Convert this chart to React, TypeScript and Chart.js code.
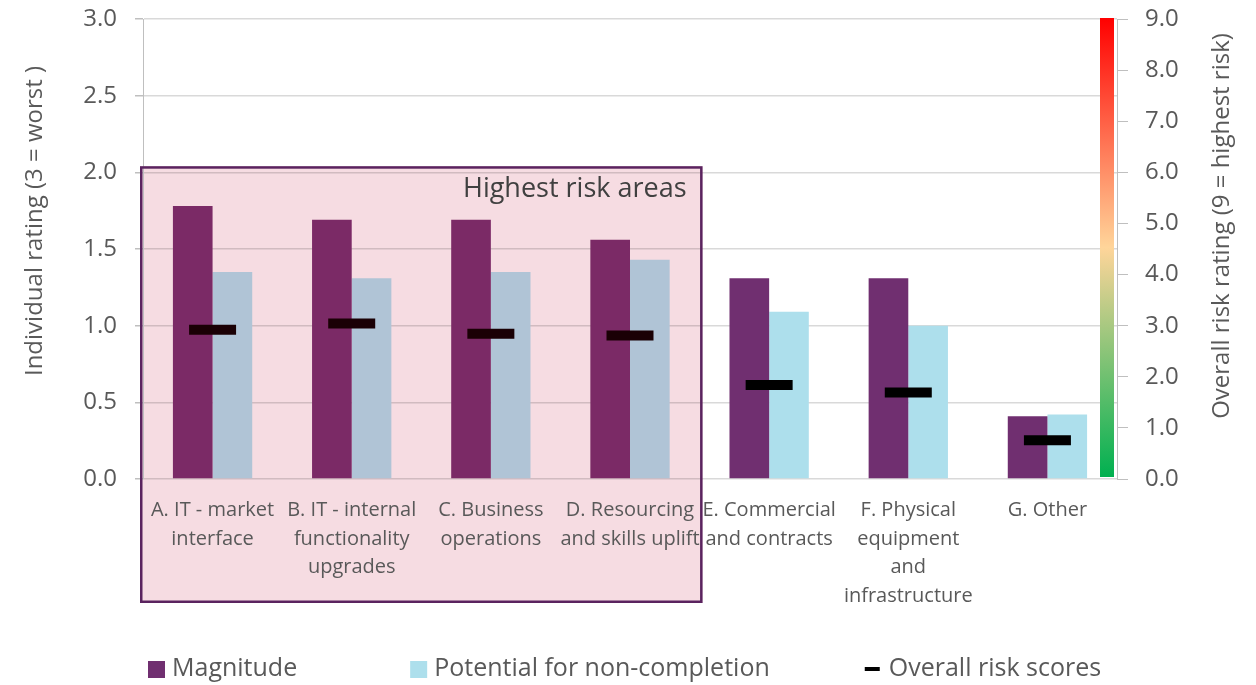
import { useEffect, useRef } from "react";
import { Chart, registerables } from "chart.js";

Chart.register(...registerables);

// ---- Data -----------------------------------------------------------------
const CATEGORY_LABELS: string[][] = [
  ["A. IT - market", "interface"],
  ["B. IT - internal", "functionality", "upgrades"],
  ["C. Business", "operations"],
  ["D. Resourcing", "and skills uplift"],
  ["E. Commercial", "and contracts"],
  ["F. Physical", "equipment", "and", "infrastructure"],
  ["G. Other"],
];

const SERIES_NAMES = ["Magnitude", "Potential for non-completion", "Overall risk scores"];

// Individual ratings (0–3 scale, left axis)
const MAGNITUDE = [1.78, 1.69, 1.69, 1.56, 1.31, 1.31, 0.41];
const NON_COMPLETION = [1.35, 1.31, 1.35, 1.43, 1.09, 1.0, 0.42];

// Overall risk scores (0–9 scale, right axis)
const OVERALL_RISK = [2.92, 3.04, 2.84, 2.81, 1.84, 1.69, 0.76];

// Axis ranges
const LEFT_AXIS = { min: 0, max: 3, step: 0.5 };
const RIGHT_AXIS = { min: 0, max: 9, step: 1 };

const LEFT_TITLE = "Individual rating (3 = worst )";
const RIGHT_TITLE = "Overall risk rating (9 = highest risk)";

// The first N categories are grouped as the highest risk areas
const HIGHLIGHT_COUNT = 4;
const HIGHLIGHT_LABEL = "Highest risk areas";
const HIGHLIGHT_TOP_VALUE = 2.04;

// ---- Styling --------------------------------------------------------------
const FONT = "'Open Sans', 'Noto Sans', sans-serif";
const TEXT = "#595959";

const MAG_COLOR = "#702F70";
const MAG_COLOR_HL = "#7B2A66";
const NC_COLOR = "#ADDFEC";
const NC_COLOR_HL = "#B0C4D6";
const RISK_COLOR = "#000000";
const RISK_COLOR_HL = "#1A0005";

const inHighlight = (i: number) => i < HIGHLIGHT_COUNT;

function highlightBox(chart: any) {
  const { chartArea, scales } = chart;
  const x = scales.x;
  const y = scales.y;
  const left = chartArea.left - 3;
  const right = (x.getPixelForValue(HIGHLIGHT_COUNT - 1) + x.getPixelForValue(HIGHLIGHT_COUNT)) / 2 + 3;
  const top = y.getPixelForValue(HIGHLIGHT_TOP_VALUE);
  const bottom = chartArea.bottom + 124;
  return { left, right, top, bottom };
}

const decorations = {
  id: "decorations",
  beforeDraw(chart: any) {
    const { ctx } = chart;
    const b = highlightBox(chart);
    ctx.save();
    ctx.fillStyle = "#F6DCE2";
    ctx.fillRect(b.left, b.top, b.right - b.left, b.bottom - b.top);
    ctx.restore();
  },
  beforeDatasetsDraw(chart: any) {
    // colour ramp beside the right axis
    const { ctx, chartArea, scales } = chart;
    const y2 = scales.y2;
    const top = y2.getPixelForValue(RIGHT_AXIS.max) - 1;
    const bottom = y2.getPixelForValue(RIGHT_AXIS.min) - 2;
    const x0 = chartArea.right - 17;
    const g = ctx.createLinearGradient(0, bottom, 0, top);
    g.addColorStop(0, "#00B050");
    g.addColorStop(0.5, "#FFD59A");
    g.addColorStop(1, "#FF0000");
    ctx.save();
    ctx.fillStyle = g;
    ctx.fillRect(x0, top, 14, bottom - top);
    ctx.restore();
  },
  afterDatasetsDraw(chart: any) {
    const { ctx } = chart;
    const b = highlightBox(chart);
    ctx.save();
    ctx.strokeStyle = "#5A235F";
    ctx.lineWidth = 2.5;
    ctx.strokeRect(b.left + 1.25, b.top + 1.25, b.right - b.left - 2.5, b.bottom - b.top - 2.5);
    ctx.fillStyle = "#404040";
    ctx.font = `27px ${FONT}`;
    ctx.textAlign = "right";
    ctx.textBaseline = "alphabetic";
    ctx.fillText(HIGHLIGHT_LABEL, b.right - 16, b.top + 31);
    ctx.restore();
  },
  afterDraw(chart: any) {
    const { ctx, chartArea } = chart;
    ctx.save();
    ctx.fillStyle = TEXT;
    ctx.font = `24px ${FONT}`;
    ctx.textAlign = "center";
    ctx.textBaseline = "middle";
    // axis titles
    ctx.save();
    ctx.translate(chartArea.left - 108, chartArea.top + 202);
    ctx.rotate(-Math.PI / 2);
    ctx.fillText(LEFT_TITLE, 0, 0);
    ctx.restore();
    ctx.save();
    ctx.translate(chartArea.right + 105, chartArea.top + 207);
    ctx.rotate(-Math.PI / 2);
    ctx.fillText(RIGHT_TITLE, 0, 0);
    ctx.restore();

    // legend row
    ctx.font = `25px ${FONT}`;
    ctx.textAlign = "left";
    const legendY = chartArea.bottom + 190;
    const markers = [
      { kind: "box", color: MAG_COLOR },
      { kind: "box", color: NC_COLOR },
      { kind: "dash", color: RISK_COLOR },
    ];
    const gaps = [113, 95];
    let lx = chartArea.left + 5;
    SERIES_NAMES.forEach((name, i) => {
      const m = markers[i];
      ctx.fillStyle = m.color;
      if (m.kind === "box") ctx.fillRect(lx, legendY - 8, 17, 17);
      else ctx.fillRect(lx, legendY - 2, 15, 4);
      ctx.fillStyle = TEXT;
      ctx.fillText(name, lx + 24, legendY);
      lx += 24 + ctx.measureText(name).width + (gaps[i] ?? 0);
    });
    ctx.restore();
  },
};

// Vertical axes: fixed widths, and no extra top/bottom room for end labels
const fixVertical = (width: number) => (s: any) => {
  s.width = width;
  s.paddingTop = 0;
  s.paddingBottom = 0;
};

export default function App() {
  const canvasRef = useRef<HTMLCanvasElement>(null);

  useEffect(() => {
    document.body.style.margin = "0";
    const canvas = canvasRef.current;
    if (!canvas) return;

    const chart = new Chart(canvas, {
      type: "bar",
      data: {
        labels: CATEGORY_LABELS,
        datasets: [
          {
            type: "line",
            label: SERIES_NAMES[2],
            data: OVERALL_RISK,
            yAxisID: "y2",
            showLine: false,
            pointStyle: "line",
            pointRadius: 23.5,
            pointHoverRadius: 23.5,
            pointBorderWidth: 10,
            pointHoverBorderWidth: 10,
            pointBorderColor: OVERALL_RISK.map((_, i) => (inHighlight(i) ? RISK_COLOR_HL : RISK_COLOR)),
            order: 0,
          } as any,
          {
            type: "bar",
            label: SERIES_NAMES[0],
            data: MAGNITUDE,
            yAxisID: "y",
            backgroundColor: MAGNITUDE.map((_, i) => (inHighlight(i) ? MAG_COLOR_HL : MAG_COLOR)),
            barPercentage: 1,
            categoryPercentage: 0.57,
            order: 1,
          },
          {
            type: "bar",
            label: SERIES_NAMES[1],
            data: NON_COMPLETION,
            yAxisID: "y",
            backgroundColor: NON_COMPLETION.map((_, i) => (inHighlight(i) ? NC_COLOR_HL : NC_COLOR)),
            barPercentage: 1,
            categoryPercentage: 0.57,
            order: 1,
          },
        ],
      },
      options: {
        responsive: false,
        animation: false,
        devicePixelRatio: 1,
        events: [],
        layout: { autoPadding: false, padding: { top: 19, left: 0, right: 0, bottom: 0 } },
        plugins: {
          legend: { display: false },
          tooltip: { enabled: false },
        },
        scales: {
          x: {
            grid: { display: false, drawTicks: false },
            border: { display: false },
            ticks: {
              color: TEXT,
              font: { family: FONT, size: 20, lineHeight: 1.435 },
              padding: 17,
              maxRotation: 0,
              autoSkip: false,
            },
            afterFit: (s: any) => {
              s.height = 206;
            },
          },
          y: {
            position: "left",
            min: LEFT_AXIS.min,
            max: LEFT_AXIS.max,
            grid: { color: "rgba(0,0,0,0.15)", lineWidth: 1.5, tickLength: 8, tickColor: "#BFBFBF" },
            border: { color: "#BFBFBF", width: 1 },
            ticks: {
              stepSize: LEFT_AXIS.step,
              color: TEXT,
              font: { family: FONT, size: 24 },
              padding: 18,
              callback: (v: any) => Number(v).toFixed(1),
            },
            afterFit: fixVertical(143),
          },
          y2: {
            position: "right",
            min: RIGHT_AXIS.min,
            max: RIGHT_AXIS.max,
            grid: { drawOnChartArea: false, tickLength: 11, tickColor: "#BFBFBF" },
            border: { color: "#BFBFBF", width: 1 },
            ticks: {
              stepSize: RIGHT_AXIS.step,
              color: TEXT,
              font: { family: FONT, size: 24 },
              padding: 17,
              callback: (v: any) => Number(v).toFixed(1),
            },
            afterFit: fixVertical(139),
          },
        },
      },
      plugins: [decorations],
    });

    return () => chart.destroy();
  }, []);

  return (
    <canvas
      ref={canvasRef}
      width={1256}
      height={685}
      style={{ display: "block", width: 1256, height: 685 }}
    />
  );
}
